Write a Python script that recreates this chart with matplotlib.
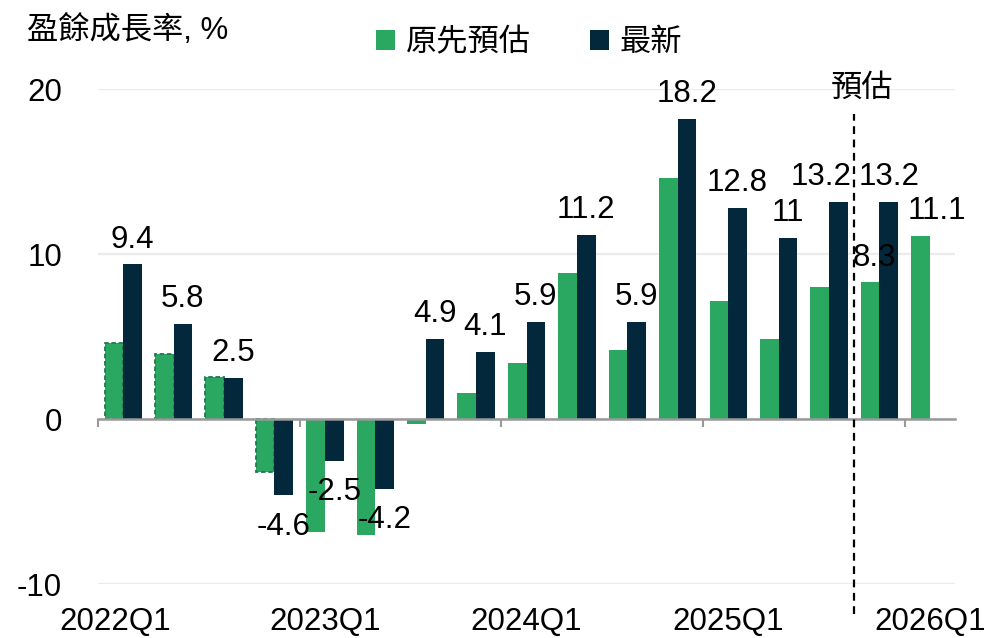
import matplotlib
matplotlib.use("Agg")
import matplotlib.pyplot as plt
import matplotlib.transforms as mtransforms
from matplotlib.patches import Patch
import numpy as np

plt.rcParams['font.family'] = ['Liberation Sans', 'Noto Sans CJK TC', 'DejaVu Sans']

quarters = ["2022Q1", "2022Q2", "2022Q3", "2022Q4",
            "2023Q1", "2023Q2", "2023Q3", "2023Q4",
            "2024Q1", "2024Q2", "2024Q3", "2024Q4",
            "2025Q1", "2025Q2", "2025Q3", "2025Q4", "2026Q1"]
original_est = [4.6, 3.95, 2.6, -3.2, -6.8, -7.0, -0.3, 1.6, 3.4, 8.85,
                4.2, 14.6, 7.2, 4.9, 8.0, 8.3, 11.1]
latest = [9.4, 5.8, 2.5, -4.6, -2.5, -4.2, 4.9, 4.1, 5.9, 11.2,
          5.9, 18.2, 12.8, 11, 13.2, 13.2, None]
year_labels = ["2022Q1", "2023Q1", "2024Q1", "2025Q1", "2026Q1"]
latest_labels = ["9.4", "5.8", "2.5", "-4.6", "-2.5", "-4.2", "4.9", "4.1",
                 "5.9", "11.2", "5.9", "18.2", "12.8", "11", "13.2", "13.2"]
green_labels = {15: "8.3", 16: "11.1"}
yticks = [-10, 0, 10, 20]

GREEN = "#2AA862"
NAVY = "#03283C"
FS = 22.5

fig = plt.figure(figsize=(9.87, 6.38), dpi=100)
ax = fig.add_axes([0.0993, 0.0839, 0.9676 - 0.0993, 0.860 - 0.0839])

x = np.arange(len(quarters))
w = 0.37
off = 0.185

gbars = ax.bar(x - off, original_est, width=w, color=GREEN, zorder=3)
for i, b in enumerate(gbars):
    if i < 4:
        b.set_edgecolor("#1E7A4E")
        b.set_linestyle((0, (2.5, 1.5)))
        b.set_linewidth(1.3)

lx = [i for i, v in enumerate(latest) if v is not None]
lv = [latest[i] for i in lx]
ax.bar(np.array(lx) + off, lv, width=w, color=NAVY, zorder=3)

# data labels for latest
nudges = {14: -17}
for i, v in zip(lx, lv):
    dx = nudges.get(i, 0)
    if v >= 0:
        ax.annotate(latest_labels[i], (i + off, v), xytext=(dx * 0.72, 7),
                    textcoords="offset points", ha="center", va="bottom",
                    fontsize=FS, color="black", zorder=5)
    else:
        ax.annotate(latest_labels[i], (i + off, v), xytext=(dx * 0.72, -12),
                    textcoords="offset points", ha="center", va="top",
                    fontsize=FS, color="black", zorder=5)
gnudge = {15: 3, 16: 12}
for i, t in green_labels.items():
    ax.annotate(t, (i - off, original_est[i]), xytext=(gnudge[i], 7),
                textcoords="offset points", ha="center", va="bottom",
                fontsize=FS, color="black", zorder=5)

ax.set_xlim(-0.5, 16.5)
ax.set_ylim(-10, 20)
ax.set_yticks(yticks)
ax.set_yticklabels([str(t) for t in yticks], fontsize=FS)
ax.tick_params(axis="y", length=0, pad=26)
ax.grid(axis="y", color="#EBEBEB", linewidth=1.6, zorder=0)
ax.set_axisbelow(True)

for s in ["top", "right", "left"]:
    ax.spines[s].set_visible(False)
ax.spines["bottom"].set_position(("data", 0))
ax.spines["bottom"].set_color("#999999")
ax.spines["bottom"].set_linewidth(1.8)
ax.spines["bottom"].set_zorder(4)
ax.set_xticks([-0.5, 3.5, 7.5, 11.5, 15.5])
ax.set_xticklabels([])
ax.tick_params(axis="x", length=6, width=1.5, color="#999999", direction="out")

trans = mtransforms.blended_transform_factory(ax.transData, ax.transAxes)
for lab in year_labels:
    i = quarters.index(lab)
    ax.text(i - (0.15 if i == 0 else 0), -0.075, lab, transform=trans,
            ha="center", va="center", fontsize=FS)

# forecast divider
ax.plot([14.5, 14.5], [-0.06, 0.95], transform=trans, color="black",
        linestyle=(0, (3.5, 2.5)), linewidth=1.6, clip_on=False, zorder=6)
ax.text(14.65, 1.0, "預估", transform=trans, ha="center", va="center",
        fontsize=FS)

fig.text(27 / 987, 1 - 31 / 638, "盈餘成長率, %", ha="left", va="center",
         fontsize=FS)

handles = [Patch(facecolor=GREEN), Patch(facecolor=NAVY)]
fig.legend(handles, ["原先預估", "最新"], loc="center", ncol=2,
           bbox_to_anchor=(529 / 987, 1 - 43 / 638), frameon=False,
           fontsize=FS, handlelength=0.6, handleheight=0.6, handletextpad=0.35,
           columnspacing=1.9)

fig.savefig("out.png", dpi=100)
